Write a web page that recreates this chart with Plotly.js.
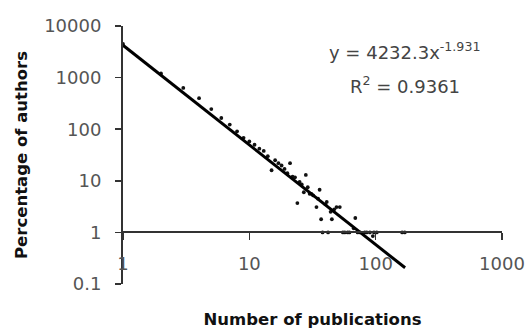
<!DOCTYPE html>
<html>
<head>
<meta charset="utf-8">
<script src="https://cdn.plot.ly/plotly-3.0.1.min.js"></script>
<style>html,body{margin:0;padding:0;background:#fff;}#chart{width:531px;height:329px;}</style>
</head>
<body>
<div id="chart"></div>
<script>
var pubs = [1,2,3,4,5,6,7,8,9,10,11,12,13,14,15,16,17,18,19,20,
            21,22,23,24,25,26,27,28,29,30,31,32,34,35,36,37,38,40,41,42,
            44,45,47,49,52,55,57,60,62,67,69,72,75,82,85,90,95,97,102,162,170];
var pctAuthors = [4500,1200,630,400,245,165,123,91,68,58,50,42,38,30,16,25,22,19.8,17,14,
                  22,12,11.7,3.7,9.5,8.5,6,13,7.5,5.6,5.6,5.2,3.1,4.5,6.7,1.8,1,3.5,3.9,1,
                  2.5,1.8,2.8,3.1,3.1,1,1,1,1,1.2,1.9,1,1,1,1,1,0.85,1,1,1,1];

// Power-law trendline y = 4232.3x^-1.931 (straight on log-log), end points
var trendX = [1, 171];
var trendY = [4232.3, 0.206];

var yTickVals = [0.1, 1, 10, 100, 1000, 10000];
var yTickText = ['0.1', '1', '10', '100', '1000', '10000'];
var xTickVals = [1, 10, 100, 1000];
var xTickText = ['1', '10', '100', '1000'];

var eqText = 'y = 4232.3x<sup>-1.931</sup>';
var r2Text = 'R<sup>2</sup> = 0.9361';

var tickFont = {family: 'DejaVu Sans', size: 18, color: '#555'};
var titleFont = {family: 'DejaVu Sans', size: 16.5, color: '#111', weight: 'bold'};

var traces = [
  {x: pubs, y: pctAuthors, type: 'scatter', mode: 'markers',
   marker: {color: '#111', size: 3.8, symbol: 'circle'}, hoverinfo: 'skip'},
  {x: trendX, y: trendY, type: 'scatter', mode: 'lines',
   line: {color: '#000', width: 3}, hoverinfo: 'skip'}
];

var layout = {
  width: 531, height: 329,
  margin: {l: 123, r: 29, t: 26, b: 45, pad: 0},
  paper_bgcolor: '#fff', plot_bgcolor: '#fff',
  showlegend: false,
  xaxis: {
    type: 'log', range: [0, 3], anchor: 'free', position: 0.2,
    tickvals: xTickVals, ticktext: xTickText,
    ticks: 'outside', ticklen: 7, tickwidth: 1.5, tickcolor: '#333',
    showline: true, linecolor: '#333', linewidth: 2,
    showgrid: false, zeroline: false,
    tickfont: tickFont, ticklabelstandoff: 8,
    title: {text: 'Number of publications', font: titleFont, standoff: 46}
  },
  yaxis: {
    type: 'log', range: [-1, 4],
    tickvals: yTickVals, ticktext: yTickText,
    ticks: 'outside', ticklen: 6, tickwidth: 1.5, tickcolor: '#333',
    showline: true, linecolor: '#333', linewidth: 2,
    showgrid: false, zeroline: false,
    tickfont: tickFont, ticklabelstandoff: 10,
    title: {text: 'Percentage of authors', font: titleFont, standoff: 12}
  },
  annotations: [
    {text: eqText, xref: 'paper', yref: 'paper', x: 0.744, y: 0.903,
     xanchor: 'center', yanchor: 'middle', showarrow: false,
     font: {family: 'DejaVu Sans', size: 18, color: '#444'}},
    {text: r2Text, xref: 'paper', yref: 'paper', x: 0.744, y: 0.771,
     xanchor: 'center', yanchor: 'middle', showarrow: false,
     font: {family: 'DejaVu Sans', size: 18, color: '#444'}}
  ]
};

Plotly.newPlot('chart', traces, layout, {staticPlot: true, displayModeBar: false});
</script>
</body>
</html>
